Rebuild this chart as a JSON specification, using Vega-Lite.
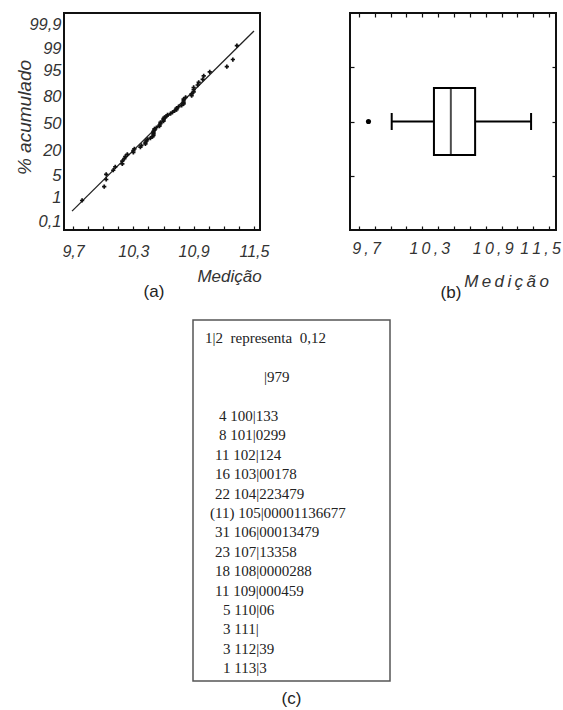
{
  "$schema": "https://vega.github.io/schema/vega-lite/v6.json",
  "padding": {"left": 14, "top": 11, "right": 0, "bottom": 0},
  "spacing": 17,
  "config": {
    "view": {"stroke": "#111", "strokeWidth": 2},
    "axis": {"grid": false, "domain": false, "labelFont": "Liberation Sans", "titleFont": "Liberation Sans", "labelColor": "#333", "titleColor": "#333", "labelFontStyle": "italic", "titleFontStyle": "italic", "titleFontWeight": "normal", "tickColor": "#111", "labelOverlap": false, "labelFlush": false},
    "title": {"font": "Liberation Sans", "fontSize": 17, "fontWeight": "normal", "color": "#222"}
  },
  "datasets": {
    "valores": [
      {"medicao": 9.79, "z": -2.418}, {"medicao": 10.01, "z": -1.987}, {"medicao": 10.03, "z": -1.762}, {"medicao": 10.03, "z": -1.601},
      {"medicao": 10.10, "z": -1.473}, {"medicao": 10.12, "z": -1.366}, {"medicao": 10.19, "z": -1.273}, {"medicao": 10.19, "z": -1.190},
      {"medicao": 10.21, "z": -1.113}, {"medicao": 10.22, "z": -1.043}, {"medicao": 10.24, "z": -0.978}, {"medicao": 10.30, "z": -0.916},
      {"medicao": 10.30, "z": -0.858}, {"medicao": 10.31, "z": -0.803}, {"medicao": 10.37, "z": -0.750}, {"medicao": 10.38, "z": -0.699},
      {"medicao": 10.42, "z": -0.650}, {"medicao": 10.42, "z": -0.603}, {"medicao": 10.43, "z": -0.556}, {"medicao": 10.44, "z": -0.511},
      {"medicao": 10.47, "z": -0.467}, {"medicao": 10.49, "z": -0.424}, {"medicao": 10.50, "z": -0.381}, {"medicao": 10.50, "z": -0.339},
      {"medicao": 10.50, "z": -0.298}, {"medicao": 10.50, "z": -0.258}, {"medicao": 10.51, "z": -0.217}, {"medicao": 10.51, "z": -0.178},
      {"medicao": 10.53, "z": -0.138}, {"medicao": 10.56, "z": -0.098}, {"medicao": 10.56, "z": -0.059}, {"medicao": 10.57, "z": -0.020},
      {"medicao": 10.57, "z": 0.020}, {"medicao": 10.60, "z": 0.059}, {"medicao": 10.60, "z": 0.098}, {"medicao": 10.60, "z": 0.138},
      {"medicao": 10.61, "z": 0.178}, {"medicao": 10.63, "z": 0.217}, {"medicao": 10.64, "z": 0.258}, {"medicao": 10.67, "z": 0.298},
      {"medicao": 10.69, "z": 0.339}, {"medicao": 10.71, "z": 0.381}, {"medicao": 10.73, "z": 0.424}, {"medicao": 10.73, "z": 0.467},
      {"medicao": 10.75, "z": 0.511}, {"medicao": 10.78, "z": 0.556}, {"medicao": 10.80, "z": 0.603}, {"medicao": 10.80, "z": 0.650},
      {"medicao": 10.80, "z": 0.699}, {"medicao": 10.80, "z": 0.750}, {"medicao": 10.82, "z": 0.803}, {"medicao": 10.88, "z": 0.858},
      {"medicao": 10.88, "z": 0.916}, {"medicao": 10.90, "z": 0.978}, {"medicao": 10.90, "z": 1.043}, {"medicao": 10.90, "z": 1.113},
      {"medicao": 10.94, "z": 1.190}, {"medicao": 10.95, "z": 1.273}, {"medicao": 10.99, "z": 1.366}, {"medicao": 11.00, "z": 1.473},
      {"medicao": 11.06, "z": 1.601}, {"medicao": 11.23, "z": 1.762}, {"medicao": 11.29, "z": 1.987}, {"medicao": 11.33, "z": 2.418}
    ],
    "reta": [{"medicao": 9.69, "z": -2.75}, {"medicao": 11.5, "z": 2.875}]
  },
  "vconcat": [
    {
      "bounds": "flush",
      "spacing": 90,
      "hconcat": [
        {
          "width": 196,
          "height": 217,
          "title": {"text": "(a)", "orient": "bottom", "anchor": "middle", "dx": -8, "offset": 0},
          "layer": [
            {
              "data": {"name": "reta"},
              "mark": {"type": "line", "color": "#222", "strokeWidth": 1.3},
              "encoding": {
                "x": {"field": "medicao", "type": "quantitative", "scale": {"domain": [9.61, 11.56], "nice": false, "zero": false},
                  "axis": {"values": [9.7, 9.85, 10, 10.15, 10.3, 10.45, 10.6, 10.75, 10.9, 11.05, 11.2, 11.35, 11.5], "tickCount": 40,
                    "labelExpr": "abs(datum.value - 9.7) < 0.01 ? '9,7' : abs(datum.value - 10.3) < 0.01 ? '10,3' : abs(datum.value - 10.9) < 0.01 ? '10,9' : abs(datum.value - 11.5) < 0.01 ? '11,5' : ''",
                    "labelOverlap": false, "tickSize": -4, "tickWidth": 1.2, "labelPadding": 17, "labelFontSize": 16,
                    "title": "Medição", "titleFontSize": 17, "titleX": 165, "titleY": 46, "titleAlign": "center", "titleBaseline": "middle"}},
                "y": {"field": "z", "type": "quantitative", "scale": {"domain": [-3.34, 3.44], "nice": false, "zero": false},
                  "axis": {"values": [-3.09, -2.326, -1.645, -0.842, 0, 0.842, 1.645, 2.326, 3.09], "tickCount": 40,
                    "labelExpr": "datum.value < -3 ? '0,1' : datum.value < -2 ? '1' : datum.value < -1 ? '5' : datum.value < -0.5 ? '20' : datum.value < 0.5 ? '50' : datum.value < 1 ? '80' : datum.value < 2 ? '95' : datum.value < 3 ? '99' : '99,9'",
                    "labelOverlap": false, "ticks": false, "labelPadding": 3, "labelFontSize": 16.5,
                    "title": "% acumulado", "titleFontSize": 19, "titleX": -40, "titleY": 104, "titleAlign": "center", "titleBaseline": "middle", "titleAngle": 270}}
              }
            },
            {
              "data": {"name": "valores"},
              "mark": {"type": "point", "shape": "cross", "filled": true, "color": "#111", "size": 18, "opacity": 1},
              "encoding": {
                "x": {"field": "medicao", "type": "quantitative"},
                "y": {"field": "z", "type": "quantitative"}
              }
            }
          ]
        },
        {
          "width": 206,
          "height": 217,
          "title": {"text": "(b)", "orient": "bottom", "anchor": "middle", "dx": -2, "offset": -4},
          "resolve": {"axis": {"x": "independent", "y": "independent"}},
          "layer": [
            {
              "data": {"name": "valores"},
              "mark": {"type": "boxplot", "extent": 1.5, "size": 67, "color": "black",
                "box": {"fill": "white", "stroke": "black", "strokeWidth": 2},
                "median": {"color": "black", "thickness": 2},
                "rule": {"color": "black", "strokeWidth": 2},
                "ticks": {"color": "black", "size": 17, "thickness": 2},
                "outliers": {"color": "black", "filled": true, "size": 26, "opacity": 1}},
              "encoding": {
                "x": {"field": "medicao", "type": "quantitative", "scale": {"domain": [9.615, 11.566], "nice": false, "zero": false},
                  "axis": {"orient": "bottom", "values": [9.7, 9.85, 10, 10.15, 10.3, 10.45, 10.6, 10.75, 10.9, 11.05, 11.2, 11.35, 11.5], "tickCount": 40,
                    "labelExpr": "abs(datum.value - 9.7) < 0.01 ? '9\u2009,\u20097' : abs(datum.value - 10.3) < 0.01 ? '1\u20090\u2009,\u20093' : abs(datum.value - 10.9) < 0.01 ? '1\u20090\u2009,\u20099' : abs(datum.value - 11.5) < 0.01 ? '1\u20091\u2009,\u20095' : ''",
                    "labelOverlap": false, "tickSize": -4, "tickWidth": 1.2, "labelPadding": 14, "labelFontSize": 16,
                    "labelOffset": {"condition": {"test": "datum.value > 11.4", "value": -9}, "value": 7},
                    "title": "M\u2009e\u2009d\u2009i\u2009ç\u2009ã\u2009o", "titleFontSize": 17, "titleX": 156, "titleY": 51, "titleAlign": "center", "titleBaseline": "middle"}}
              }
            },
            {
              "data": {"values": [{"medicao": 10.5, "q": 2}]},
              "mark": {"type": "point", "opacity": 0},
              "encoding": {
                "x": {"field": "medicao", "type": "quantitative",
                  "axis": {"orient": "top", "values": [9.7, 9.85, 10, 10.15, 10.3, 10.45, 10.6, 10.75, 10.9, 11.05, 11.2, 11.35, 11.5], "tickCount": 40, "labels": false, "tickSize": -4, "tickWidth": 1.2, "title": null}},
                "y": {"field": "q", "type": "quantitative", "scale": {"domain": [0, 4], "nice": false},
                  "axis": {"orient": "left", "values": [1, 2, 3], "tickCount": 40, "labels": false, "tickSize": -4, "tickWidth": 1.2, "title": null}}
              }
            },
            {
              "data": {"values": [{"medicao": 10.5, "q": 2}]},
              "mark": {"type": "point", "opacity": 0},
              "encoding": {
                "x": {"field": "medicao", "type": "quantitative", "axis": null},
                "y": {"field": "q", "type": "quantitative",
                  "axis": {"orient": "right", "values": [1, 2, 3], "tickCount": 40, "labels": false, "tickSize": -4, "tickWidth": 1.2, "title": null}}
              }
            }
          ]
        }
      ]
    },
    {
      "bounds": "flush",
      "spacing": 10,
      "hconcat": [
        {
          "width": 119,
          "height": 361,
          "view": {"stroke": null},
          "data": {"values": [{"u": 0}]},
          "mark": {"type": "point", "opacity": 0},
          "encoding": {
            "x": {"field": "u", "type": "quantitative", "axis": null},
            "y": {"field": "u", "type": "quantitative", "axis": null}
          }
        },
        {
          "width": 197,
          "height": 361,
          "view": {"stroke": "#555", "strokeWidth": 1.5},
          "title": {"text": "(c)", "orient": "bottom", "anchor": "middle", "offset": 10},
          "layer": [
            {
              "data": {"values": [{"linha": -4, "texto": "1|2\u00a0 representa\u00a0 0,12"}]},
              "mark": {"type": "text", "align": "left", "baseline": "middle", "font": "Liberation Serif", "fontSize": 15, "color": "#222"},
              "encoding": {
                "y": {"field": "linha", "type": "quantitative", "scale": {"domain": [-4.95, 13.66], "nice": false, "zero": false, "reverse": true}, "axis": null},
                "x": {"value": 12},
                "text": {"field": "texto"}
              }
            },
            {
              "data": {"values": [{"linha": -2, "texto": "|979"}]},
              "mark": {"type": "text", "align": "left", "baseline": "middle", "font": "Liberation Serif", "fontSize": 15, "color": "#222"},
              "encoding": {
                "y": {"field": "linha", "type": "quantitative", "axis": null},
                "x": {"value": 71},
                "text": {"field": "texto"}
              }
            },
            {
              "data": {"values": [
                {"linha": 5, "texto": "(11) 105|00001136677"}
              ]},
              "mark": {"type": "text", "align": "left", "baseline": "middle", "font": "Liberation Serif", "fontSize": 15, "color": "#222"},
              "encoding": {
                "y": {"field": "linha", "type": "quantitative", "axis": null},
                "x": {"value": 17},
                "text": {"field": "texto"}
              }
            },
            {
              "data": {"values": [
                {"linha": 2, "texto": "11 102|124"},
                {"linha": 3, "texto": "16 103|00178"},
                {"linha": 4, "texto": "22 104|223479"},
                {"linha": 6, "texto": "31 106|00013479"},
                {"linha": 7, "texto": "23 107|13358"},
                {"linha": 8, "texto": "18 108|0000288"},
                {"linha": 9, "texto": "11 109|000459"}
              ]},
              "mark": {"type": "text", "align": "left", "baseline": "middle", "font": "Liberation Serif", "fontSize": 15, "color": "#222"},
              "encoding": {
                "y": {"field": "linha", "type": "quantitative", "axis": null},
                "x": {"value": 22},
                "text": {"field": "texto"}
              }
            },
            {
              "data": {"values": [
                {"linha": 0, "texto": "4 100|133"},
                {"linha": 1, "texto": "8 101|0299"}
              ]},
              "mark": {"type": "text", "align": "left", "baseline": "middle", "font": "Liberation Serif", "fontSize": 15, "color": "#222"},
              "encoding": {
                "y": {"field": "linha", "type": "quantitative", "axis": null},
                "x": {"value": 26},
                "text": {"field": "texto"}
              }
            },
            {
              "data": {"values": [
                {"linha": 10, "texto": "5 110|06"},
                {"linha": 11, "texto": "3 111|"},
                {"linha": 12, "texto": "3 112|39"},
                {"linha": 13, "texto": "1 113|3"}
              ]},
              "mark": {"type": "text", "align": "left", "baseline": "middle", "font": "Liberation Serif", "fontSize": 15, "color": "#222"},
              "encoding": {
                "y": {"field": "linha", "type": "quantitative", "axis": null},
                "x": {"value": 30},
                "text": {"field": "texto"}
              }
            }
          ]
        }
      ]
    }
  ]
}
